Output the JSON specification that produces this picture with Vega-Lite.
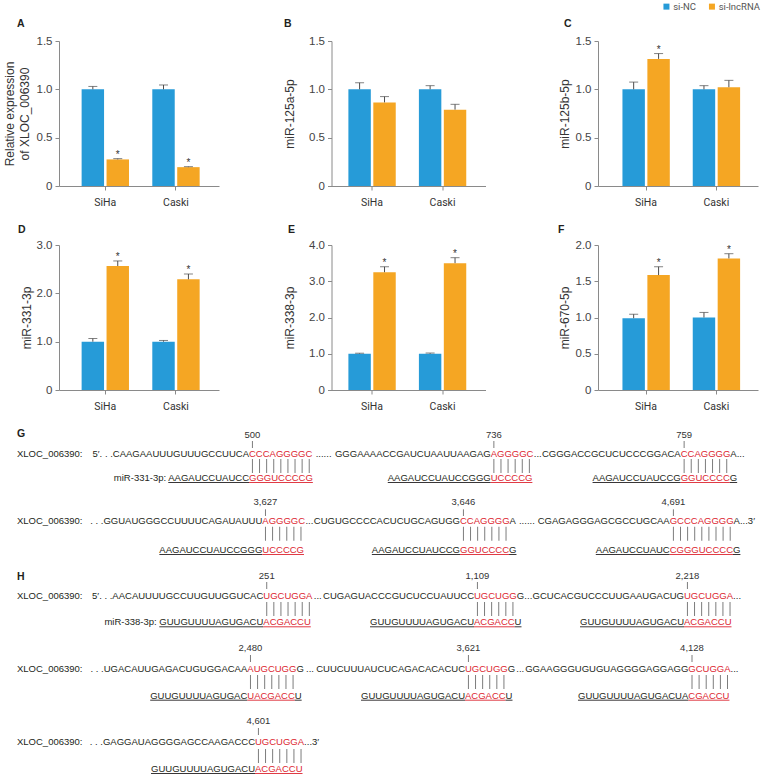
{
  "$schema": "https://vega.github.io/schema/vega-lite/v6.json",
  "background": "white",
  "padding": {"left": 3, "top": 1, "right": 0, "bottom": 0},
  "config": {
    "view": {"stroke": null},
    "font": "Liberation Sans",
    "axis": {"grid": false, "domainColor": "#8a8a8a", "tickColor": "#8a8a8a", "tickSize": 4, "domainWidth": 1, "tickWidth": 1, "labelColor": "#444444", "labelFont": "Liberation Sans", "labelFontSize": 11.5, "labelPadding": 3, "labelOverlap": false, "titleFont": "Liberation Sans", "titleFontSize": 12, "titleFontWeight": "normal", "titleColor": "#333333"},
    "axisX": {"labelFont": "Roboto", "labelFontSize": 10.5, "labelPadding": 7, "labelAngle": 0, "labelColor": "#333333"},
    "legend": {"orient": "none", "legendX": 602.7, "legendY": -39.5, "direction": "horizontal", "title": null, "symbolType": "square", "symbolSize": 36, "symbolStrokeWidth": 0, "labelFont": "Roboto", "labelFontSize": 9.5, "labelColor": "#555555", "labelOffset": 2, "columnPadding": 10.5, "padding": 0}
  },
  "datasets": {
    "bars": [
      {"panel": "A", "cell": "SiHa", "group": "si-NC", "mean": 1.0, "upper": 1.03, "sig": ""},
      {"panel": "A", "cell": "SiHa", "group": "si-lncRNA", "mean": 0.275, "upper": 0.283, "sig": "*"},
      {"panel": "A", "cell": "Caski", "group": "si-NC", "mean": 1.0, "upper": 1.045, "sig": ""},
      {"panel": "A", "cell": "Caski", "group": "si-lncRNA", "mean": 0.195, "upper": 0.2, "sig": "*"},
      {"panel": "B", "cell": "SiHa", "group": "si-NC", "mean": 1.0, "upper": 1.068, "sig": ""},
      {"panel": "B", "cell": "SiHa", "group": "si-lncRNA", "mean": 0.865, "upper": 0.925, "sig": ""},
      {"panel": "B", "cell": "Caski", "group": "si-NC", "mean": 1.0, "upper": 1.038, "sig": ""},
      {"panel": "B", "cell": "Caski", "group": "si-lncRNA", "mean": 0.79, "upper": 0.845, "sig": ""},
      {"panel": "C", "cell": "SiHa", "group": "si-NC", "mean": 1.0, "upper": 1.075, "sig": ""},
      {"panel": "C", "cell": "SiHa", "group": "si-lncRNA", "mean": 1.315, "upper": 1.37, "sig": "*"},
      {"panel": "C", "cell": "Caski", "group": "si-NC", "mean": 1.0, "upper": 1.038, "sig": ""},
      {"panel": "C", "cell": "Caski", "group": "si-lncRNA", "mean": 1.022, "upper": 1.093, "sig": ""},
      {"panel": "D", "cell": "SiHa", "group": "si-NC", "mean": 1.0, "upper": 1.065, "sig": ""},
      {"panel": "D", "cell": "SiHa", "group": "si-lncRNA", "mean": 2.565, "upper": 2.67, "sig": "*"},
      {"panel": "D", "cell": "Caski", "group": "si-NC", "mean": 1.0, "upper": 1.025, "sig": ""},
      {"panel": "D", "cell": "Caski", "group": "si-lncRNA", "mean": 2.29, "upper": 2.4, "sig": "*"},
      {"panel": "E", "cell": "SiHa", "group": "si-NC", "mean": 1.0, "upper": 1.015, "sig": ""},
      {"panel": "E", "cell": "SiHa", "group": "si-lncRNA", "mean": 3.25, "upper": 3.4, "sig": "*"},
      {"panel": "E", "cell": "Caski", "group": "si-NC", "mean": 1.0, "upper": 1.02, "sig": ""},
      {"panel": "E", "cell": "Caski", "group": "si-lncRNA", "mean": 3.5, "upper": 3.65, "sig": "*"},
      {"panel": "F", "cell": "SiHa", "group": "si-NC", "mean": 0.99, "upper": 1.045, "sig": ""},
      {"panel": "F", "cell": "SiHa", "group": "si-lncRNA", "mean": 1.585, "upper": 1.7, "sig": "*"},
      {"panel": "F", "cell": "Caski", "group": "si-NC", "mean": 1.0, "upper": 1.07, "sig": ""},
      {"panel": "F", "cell": "Caski", "group": "si-lncRNA", "mean": 1.815, "upper": 1.88, "sig": "*"}
    ],
    "seq": [
      {"x": 18, "y": 455, "text": "XLOC_006390:", "tone": "flank", "anchor": "start"},
      {"x": 250, "y": 455, "text": "5′. . .CAAGAAUUUGUUUGCCUUCA", "tone": "flank", "anchor": "end"},
      {"x": 250, "y": 455, "text": "CCCAGGGGC", "tone": "site", "anchor": "start"},
      {"x": 324.6, "y": 455, "text": "......", "tone": "flank", "anchor": "middle"},
      {"x": 491.7, "y": 455, "text": "GGGAAAACCGAUCUAAUUAAGAG", "tone": "flank", "anchor": "end"},
      {"x": 491.7, "y": 455, "text": "AGGGGC", "tone": "site", "anchor": "start"},
      {"x": 538.7, "y": 455, "text": "...", "tone": "flank", "anchor": "middle"},
      {"x": 681.7, "y": 455, "text": "CGGGACCGCUCUCCCGGACA", "tone": "flank", "anchor": "end"},
      {"x": 681.7, "y": 455, "text": "CCAGGGG", "tone": "site", "anchor": "start"},
      {"x": 731.3, "y": 455, "text": "A...", "tone": "flank", "anchor": "start"},
      {"x": 250, "y": 479, "text": "miR-331-3p: AAGAUCCUAUCC", "tone": "flank", "anchor": "end"},
      {"x": 250, "y": 479, "text": "GGGUCCCCG", "tone": "site", "anchor": "start"},
      {"x": 491.7, "y": 479, "text": "AAGAUCCUAUCCGGG", "tone": "flank", "anchor": "end"},
      {"x": 491.7, "y": 479, "text": "UCCCCG", "tone": "site", "anchor": "start"},
      {"x": 681.7, "y": 479, "text": "AAGAUCCUAUCCG", "tone": "flank", "anchor": "end"},
      {"x": 681.7, "y": 479, "text": "GGUCCCC", "tone": "site", "anchor": "start"},
      {"x": 730.8, "y": 479, "text": "G", "tone": "flank", "anchor": "start"},
      {"x": 18, "y": 522.3, "text": "XLOC_006390:", "tone": "flank", "anchor": "start"},
      {"x": 263.3, "y": 522.3, "text": ". . .GGUAUGGGCCUUUUCAGAUAUUU", "tone": "flank", "anchor": "end"},
      {"x": 263.3, "y": 522.3, "text": "AGGGGC", "tone": "site", "anchor": "start"},
      {"x": 310.4, "y": 522.3, "text": "...", "tone": "flank", "anchor": "middle"},
      {"x": 461, "y": 522.3, "text": "CUGUGCCCCACUCUGCAGUGG", "tone": "flank", "anchor": "end"},
      {"x": 461, "y": 522.3, "text": "CCAGGGG", "tone": "site", "anchor": "start"},
      {"x": 510.6, "y": 522.3, "text": "A", "tone": "flank", "anchor": "start"},
      {"x": 527.9, "y": 522.3, "text": "......", "tone": "flank", "anchor": "middle"},
      {"x": 670.7, "y": 522.3, "text": "CGAGAGGGAGCGCCUGCAA", "tone": "flank", "anchor": "end"},
      {"x": 670.7, "y": 522.3, "text": "GCCCAGGGG", "tone": "site", "anchor": "start"},
      {"x": 734.6, "y": 522.3, "text": "A...3′", "tone": "flank", "anchor": "start"},
      {"x": 263.3, "y": 551, "text": "AAGAUCCUAUCCGGG", "tone": "flank", "anchor": "end"},
      {"x": 263.3, "y": 551, "text": "UCCCCG", "tone": "site", "anchor": "start"},
      {"x": 461, "y": 551, "text": "AAGAUCCUAUCCG", "tone": "flank", "anchor": "end"},
      {"x": 461, "y": 551, "text": "GGUCCCC", "tone": "site", "anchor": "start"},
      {"x": 510.1, "y": 551, "text": "G", "tone": "flank", "anchor": "start"},
      {"x": 670.7, "y": 551, "text": "AAGAUCCUAUC", "tone": "flank", "anchor": "end"},
      {"x": 670.7, "y": 551, "text": "CGGGUCCCC", "tone": "site", "anchor": "start"},
      {"x": 734, "y": 551, "text": "G", "tone": "flank", "anchor": "start"},
      {"x": 18, "y": 596.7, "text": "XLOC_006390:", "tone": "flank", "anchor": "start"},
      {"x": 264.3, "y": 596.7, "text": "5′. . .AACAUUUUGCCUUGUUGGUCAC", "tone": "flank", "anchor": "end"},
      {"x": 264.3, "y": 596.7, "text": "UGCUGGA", "tone": "site", "anchor": "start"},
      {"x": 318.7, "y": 596.7, "text": "...", "tone": "flank", "anchor": "middle"},
      {"x": 475, "y": 596.7, "text": "CUGAGUACCCGUCUCCUAUUCC", "tone": "flank", "anchor": "end"},
      {"x": 475, "y": 596.7, "text": "UGCUGG", "tone": "site", "anchor": "start"},
      {"x": 517.8, "y": 596.7, "text": "G", "tone": "flank", "anchor": "start"},
      {"x": 529.3, "y": 596.7, "text": "...", "tone": "flank", "anchor": "middle"},
      {"x": 685, "y": 596.7, "text": "GCUCACGUCCCUUGAAUGACUG", "tone": "flank", "anchor": "end"},
      {"x": 685, "y": 596.7, "text": "UGCUGGA", "tone": "site", "anchor": "start"},
      {"x": 734.1, "y": 596.7, "text": "...", "tone": "flank", "anchor": "start"},
      {"x": 264.3, "y": 623.3, "text": "miR-338-3p: GUUGUUUUAGUGACU", "tone": "flank", "anchor": "end"},
      {"x": 264.3, "y": 623.3, "text": "ACGACCU", "tone": "site", "anchor": "start"},
      {"x": 475, "y": 623.3, "text": "GUUGUUUUAGUGACU", "tone": "flank", "anchor": "end"},
      {"x": 475, "y": 623.3, "text": "ACGACC", "tone": "site", "anchor": "start"},
      {"x": 515.6, "y": 623.3, "text": "U", "tone": "flank", "anchor": "start"},
      {"x": 685, "y": 623.3, "text": "GUUGUUUUAGUGACU", "tone": "flank", "anchor": "end"},
      {"x": 685, "y": 623.3, "text": "ACGACCU", "tone": "site", "anchor": "start"},
      {"x": 18, "y": 670, "text": "XLOC_006390:", "tone": "flank", "anchor": "start"},
      {"x": 248.3, "y": 670, "text": ". . .UGACAUUGAGACUGUGGACAA", "tone": "flank", "anchor": "end"},
      {"x": 248.3, "y": 670, "text": "AUGCUGG", "tone": "site", "anchor": "start"},
      {"x": 297.4, "y": 670, "text": "G", "tone": "flank", "anchor": "start"},
      {"x": 311, "y": 670, "text": "...", "tone": "flank", "anchor": "middle"},
      {"x": 466, "y": 670, "text": "CUUCUUUAUCUCAGACACACUC", "tone": "flank", "anchor": "end"},
      {"x": 466, "y": 670, "text": "UGCUGG", "tone": "site", "anchor": "start"},
      {"x": 508.8, "y": 670, "text": "G", "tone": "flank", "anchor": "start"},
      {"x": 521.2, "y": 670, "text": "...", "tone": "flank", "anchor": "middle"},
      {"x": 689.3, "y": 670, "text": "GGAAGGGUGUGUAGGGGAGGAGG", "tone": "flank", "anchor": "end"},
      {"x": 689.3, "y": 670, "text": "GCUGGA", "tone": "site", "anchor": "start"},
      {"x": 731.5, "y": 670, "text": "...", "tone": "flank", "anchor": "start"},
      {"x": 248.3, "y": 696.7, "text": "GUUGUUUUAGUGAC", "tone": "flank", "anchor": "end"},
      {"x": 248.3, "y": 696.7, "text": "UACGACC", "tone": "site", "anchor": "start"},
      {"x": 295.8, "y": 696.7, "text": "U", "tone": "flank", "anchor": "start"},
      {"x": 466, "y": 696.7, "text": "GUUGUUUUAGUGACU", "tone": "flank", "anchor": "end"},
      {"x": 466, "y": 696.7, "text": "ACGACC", "tone": "site", "anchor": "start"},
      {"x": 506.6, "y": 696.7, "text": "U", "tone": "flank", "anchor": "start"},
      {"x": 689.3, "y": 696.7, "text": "GUUGUUUUAGUGACUA", "tone": "flank", "anchor": "end"},
      {"x": 689.3, "y": 696.7, "text": "CGACCU", "tone": "site", "anchor": "start"},
      {"x": 18, "y": 743.3, "text": "XLOC_006390:", "tone": "flank", "anchor": "start"},
      {"x": 256, "y": 743.3, "text": ". . .GAGGAUAGGGGAGCCAAGACCC", "tone": "flank", "anchor": "end"},
      {"x": 256, "y": 743.3, "text": "UGCUGGA", "tone": "site", "anchor": "start"},
      {"x": 305.1, "y": 743.3, "text": "...3′", "tone": "flank", "anchor": "start"},
      {"x": 256, "y": 770, "text": "GUUGUUUUAGUGACU", "tone": "flank", "anchor": "end"},
      {"x": 256, "y": 770, "text": "ACGACCU", "tone": "site", "anchor": "start"}
    ],
    "pairs": [
      {"x": 252.93, "x2": 310.73, "y": 467},
      {"x": 494.37, "x2": 530.87, "y": 467},
      {"x": 684.63, "x2": 728.23, "y": 467},
      {"x": 265.97, "x2": 302.47, "y": 534.8},
      {"x": 463.93, "x2": 507.53, "y": 534.8},
      {"x": 673.9, "x2": 731.7, "y": 534.8},
      {"x": 267.23, "x2": 310.83, "y": 610},
      {"x": 477.93, "x2": 514.43, "y": 610},
      {"x": 687.93, "x2": 731.53, "y": 610},
      {"x": 250.97, "x2": 294.57, "y": 683},
      {"x": 468.93, "x2": 505.43, "y": 683},
      {"x": 692.5, "x2": 729, "y": 683},
      {"x": 258.93, "x2": 302.53, "y": 757}
    ],
    "under": [
      {"x": 169.25, "x2": 250, "y": 483.5, "tone": "flank"},
      {"x": 250, "x2": 313.86, "y": 483.5, "tone": "site"},
      {"x": 388.78, "x2": 491.7, "y": 483.5, "tone": "flank"},
      {"x": 491.7, "x2": 533.39, "y": 483.5, "tone": "site"},
      {"x": 593.56, "x2": 681.7, "y": 483.5, "tone": "flank"},
      {"x": 681.7, "x2": 730.78, "y": 483.5, "tone": "site"},
      {"x": 730.78, "x2": 738.17, "y": 483.5, "tone": "flank"},
      {"x": 160.38, "x2": 263.3, "y": 555.5, "tone": "flank"},
      {"x": 263.3, "x2": 304.99, "y": 555.5, "tone": "site"},
      {"x": 372.86, "x2": 461, "y": 555.5, "tone": "flank"},
      {"x": 461, "x2": 510.08, "y": 555.5, "tone": "site"},
      {"x": 510.08, "x2": 517.47, "y": 555.5, "tone": "flank"},
      {"x": 596.81, "x2": 670.7, "y": 555.5, "tone": "flank"},
      {"x": 670.7, "x2": 734.03, "y": 555.5, "tone": "site"},
      {"x": 734.03, "x2": 741.42, "y": 555.5, "tone": "flank"},
      {"x": 160.33, "x2": 264.3, "y": 627.8, "tone": "flank"},
      {"x": 264.3, "x2": 311.8, "y": 627.8, "tone": "site"},
      {"x": 371.03, "x2": 475, "y": 627.8, "tone": "flank"},
      {"x": 475, "x2": 515.64, "y": 627.8, "tone": "site"},
      {"x": 515.64, "x2": 522.5, "y": 627.8, "tone": "flank"},
      {"x": 581.03, "x2": 685, "y": 627.8, "tone": "flank"},
      {"x": 685, "x2": 732.5, "y": 627.8, "tone": "site"},
      {"x": 151.19, "x2": 248.3, "y": 701.2, "tone": "flank"},
      {"x": 248.3, "x2": 295.8, "y": 701.2, "tone": "site"},
      {"x": 295.8, "x2": 302.66, "y": 701.2, "tone": "flank"},
      {"x": 362.03, "x2": 466, "y": 701.2, "tone": "flank"},
      {"x": 466, "x2": 506.64, "y": 701.2, "tone": "site"},
      {"x": 506.64, "x2": 513.5, "y": 701.2, "tone": "flank"},
      {"x": 578.99, "x2": 689.3, "y": 701.2, "tone": "flank"},
      {"x": 689.3, "x2": 730.46, "y": 701.2, "tone": "site"},
      {"x": 152.03, "x2": 256, "y": 774.5, "tone": "flank"},
      {"x": 256, "x2": 303.5, "y": 774.5, "tone": "site"}
    ],
    "sites": [
      {"x": 253.43, "y": 435.5, "label": "500", "t1": 442, "t2": 449},
      {"x": 494.87, "y": 435.5, "label": "736", "t1": 442, "t2": 449},
      {"x": 685.13, "y": 435.5, "label": "759", "t1": 442, "t2": 449},
      {"x": 266.47, "y": 503.3, "label": "3,627", "t1": 510.3, "t2": 517},
      {"x": 464.43, "y": 503.3, "label": "3,646", "t1": 510.3, "t2": 517},
      {"x": 674.4, "y": 503.3, "label": "4,691", "t1": 510.3, "t2": 517},
      {"x": 267.73, "y": 576.7, "label": "251", "t1": 583, "t2": 590},
      {"x": 478.43, "y": 576.7, "label": "1,109", "t1": 583, "t2": 590},
      {"x": 688.43, "y": 576.7, "label": "2,218", "t1": 583, "t2": 590},
      {"x": 251.47, "y": 649.3, "label": "2,480", "t1": 656, "t2": 663},
      {"x": 469.43, "y": 649.3, "label": "3,621", "t1": 656, "t2": 663},
      {"x": 693, "y": 649.3, "label": "4,128", "t1": 656, "t2": 663},
      {"x": 259.43, "y": 722.3, "label": "4,601", "t1": 729, "t2": 736}
    ],
    "letters": [
      {"x": 18, "y": 435, "letter": "G"},
      {"x": 18, "y": 578, "letter": "H"}
    ]
  },
  "columns": 3,
  "align": "each",
  "bounds": "flush",
  "spacing": {"row": 59, "column": 112.5},
  "concat": [
    {
      "width": 160, "height": 145,
      "title": {"text": "A", "anchor": "start", "frame": "group", "dx": -42, "offset": -2, "baseline": "alphabetic", "fontSize": 10.5, "fontWeight": "bold", "font": "Liberation Sans", "color": "#231f20"},
      "data": {"name": "bars"},
      "transform": [{"filter": "datum.panel == 'A'"}],
      "encoding": {
        "x": {"field": "cell", "type": "nominal", "sort": ["SiHa", "Caski"], "scale": {"paddingInner": 0.33, "paddingOuter": 0.297, "align": 0.539}, "axis": {"title": null}},
        "xOffset": {"field": "group", "type": "nominal", "sort": ["si-NC", "si-lncRNA"], "scale": {"paddingInner": 0.1}}
      },
      "layer": [
        {"mark": "bar", "encoding": {
          "y": {"field": "mean", "type": "quantitative", "scale": {"domain": [0, 1.5], "nice": false}, "axis": {"title": ["Relative expression", "of XLOC_006390"], "titleX": -50, "titleBaseline": "middle", "titleLineHeight": 15, "values": [0, 0.5, 1, 1.5], "tickCount": 10, "labelExpr": "datum.value == 0 ? '0' : format(datum.value, '.1f')"}},
          "color": {"field": "group", "type": "nominal", "scale": {"domain": ["si-NC", "si-lncRNA"], "range": ["#269bd8", "#f5a623"]}}}},
        {"mark": {"type": "rule", "color": "#4d4d4d", "strokeWidth": 1}, "encoding": {"y": {"field": "mean", "type": "quantitative"}, "y2": {"field": "upper"}}},
        {"mark": {"type": "tick", "color": "#4d4d4d", "size": 9, "thickness": 1}, "encoding": {"y": {"field": "upper", "type": "quantitative"}}},
        {"transform": [{"filter": "datum.sig == '*'"}], "mark": {"type": "text", "dy": -4, "fontSize": 10, "color": "#333333", "baseline": "middle"}, "encoding": {"y": {"field": "upper", "type": "quantitative"}, "text": {"field": "sig"}}}
      ]
    },
    {
      "width": 154, "height": 145,
      "title": {"text": "B", "anchor": "start", "frame": "group", "dx": -47.5, "offset": -2, "baseline": "alphabetic", "fontSize": 10.5, "fontWeight": "bold", "font": "Liberation Sans", "color": "#231f20"},
      "data": {"name": "bars"},
      "transform": [{"filter": "datum.panel == 'B'"}],
      "encoding": {
        "x": {"field": "cell", "type": "nominal", "sort": ["SiHa", "Caski"], "scale": {"paddingInner": 0.33, "paddingOuter": 0.257, "align": 0.466}, "axis": {"title": null}},
        "xOffset": {"field": "group", "type": "nominal", "sort": ["si-NC", "si-lncRNA"], "scale": {"paddingInner": 0.1}}
      },
      "layer": [
        {"mark": "bar", "encoding": {
          "y": {"field": "mean", "type": "quantitative", "scale": {"domain": [0, 1.5], "nice": false}, "axis": {"title": "miR-125a-5p", "titleX": -42.5, "titleBaseline": "middle", "values": [0, 0.5, 1, 1.5], "tickCount": 10, "labelExpr": "datum.value == 0 ? '0' : format(datum.value, '.1f')"}},
          "color": {"field": "group", "type": "nominal", "scale": {"domain": ["si-NC", "si-lncRNA"], "range": ["#269bd8", "#f5a623"]}}}},
        {"mark": {"type": "rule", "color": "#4d4d4d", "strokeWidth": 1}, "encoding": {"y": {"field": "mean", "type": "quantitative"}, "y2": {"field": "upper"}}},
        {"mark": {"type": "tick", "color": "#4d4d4d", "size": 9, "thickness": 1}, "encoding": {"y": {"field": "upper", "type": "quantitative"}}},
        {"transform": [{"filter": "datum.sig == '*'"}], "mark": {"type": "text", "dy": -4, "fontSize": 10, "color": "#333333", "baseline": "middle"}, "encoding": {"y": {"field": "upper", "type": "quantitative"}, "text": {"field": "sig"}}}
      ]
    },
    {
      "width": 160, "height": 145,
      "title": {"text": "C", "anchor": "start", "frame": "group", "dx": -34, "offset": -2, "baseline": "alphabetic", "fontSize": 10.5, "fontWeight": "bold", "font": "Liberation Sans", "color": "#231f20"},
      "data": {"name": "bars"},
      "transform": [{"filter": "datum.panel == 'C'"}],
      "encoding": {
        "x": {"field": "cell", "type": "nominal", "sort": ["SiHa", "Caski"], "scale": {"paddingInner": 0.33, "paddingOuter": 0.303, "align": 0.574}, "axis": {"title": null}},
        "xOffset": {"field": "group", "type": "nominal", "sort": ["si-NC", "si-lncRNA"], "scale": {"paddingInner": 0.1}}
      },
      "layer": [
        {"mark": "bar", "encoding": {
          "y": {"field": "mean", "type": "quantitative", "scale": {"domain": [0, 1.5], "nice": false}, "axis": {"title": "miR-125b-5p", "titleX": -34, "titleBaseline": "middle", "values": [0, 0.5, 1, 1.5], "tickCount": 10, "labelExpr": "datum.value == 0 ? '0' : format(datum.value, '.1f')"}},
          "color": {"field": "group", "type": "nominal", "scale": {"domain": ["si-NC", "si-lncRNA"], "range": ["#269bd8", "#f5a623"]}}}},
        {"mark": {"type": "rule", "color": "#4d4d4d", "strokeWidth": 1}, "encoding": {"y": {"field": "mean", "type": "quantitative"}, "y2": {"field": "upper"}}},
        {"mark": {"type": "tick", "color": "#4d4d4d", "size": 9, "thickness": 1}, "encoding": {"y": {"field": "upper", "type": "quantitative"}}},
        {"transform": [{"filter": "datum.sig == '*'"}], "mark": {"type": "text", "dy": -4, "fontSize": 10, "color": "#333333", "baseline": "middle"}, "encoding": {"y": {"field": "upper", "type": "quantitative"}, "text": {"field": "sig"}}}
      ]
    },
    {
      "width": 160, "height": 145,
      "title": {"text": "D", "anchor": "start", "frame": "group", "dx": -41, "offset": -4, "baseline": "alphabetic", "fontSize": 10.5, "fontWeight": "bold", "font": "Liberation Sans", "color": "#231f20"},
      "data": {"name": "bars"},
      "transform": [{"filter": "datum.panel == 'D'"}],
      "encoding": {
        "x": {"field": "cell", "type": "nominal", "sort": ["SiHa", "Caski"], "scale": {"paddingInner": 0.33, "paddingOuter": 0.297, "align": 0.539}, "axis": {"title": null}},
        "xOffset": {"field": "group", "type": "nominal", "sort": ["si-NC", "si-lncRNA"], "scale": {"paddingInner": 0.1}}
      },
      "layer": [
        {"mark": "bar", "encoding": {
          "y": {"field": "mean", "type": "quantitative", "scale": {"domain": [0, 3], "nice": false}, "axis": {"title": "miR-331-3p", "titleX": -33, "titleBaseline": "middle", "values": [0, 1, 2, 3], "tickCount": 10, "labelExpr": "datum.value == 0 ? '0' : format(datum.value, '.1f')"}},
          "color": {"field": "group", "type": "nominal", "scale": {"domain": ["si-NC", "si-lncRNA"], "range": ["#269bd8", "#f5a623"]}}}},
        {"mark": {"type": "rule", "color": "#4d4d4d", "strokeWidth": 1}, "encoding": {"y": {"field": "mean", "type": "quantitative"}, "y2": {"field": "upper"}}},
        {"mark": {"type": "tick", "color": "#4d4d4d", "size": 9, "thickness": 1}, "encoding": {"y": {"field": "upper", "type": "quantitative"}}},
        {"transform": [{"filter": "datum.sig == '*'"}], "mark": {"type": "text", "dy": -4, "fontSize": 10, "color": "#333333", "baseline": "middle"}, "encoding": {"y": {"field": "upper", "type": "quantitative"}, "text": {"field": "sig"}}}
      ]
    },
    {
      "width": 154, "height": 145,
      "title": {"text": "E", "anchor": "start", "frame": "group", "dx": -43.5, "offset": -4, "baseline": "alphabetic", "fontSize": 10.5, "fontWeight": "bold", "font": "Liberation Sans", "color": "#231f20"},
      "data": {"name": "bars"},
      "transform": [{"filter": "datum.panel == 'E'"}],
      "encoding": {
        "x": {"field": "cell", "type": "nominal", "sort": ["SiHa", "Caski"], "scale": {"paddingInner": 0.33, "paddingOuter": 0.257, "align": 0.466}, "axis": {"title": null}},
        "xOffset": {"field": "group", "type": "nominal", "sort": ["si-NC", "si-lncRNA"], "scale": {"paddingInner": 0.1}}
      },
      "layer": [
        {"mark": "bar", "encoding": {
          "y": {"field": "mean", "type": "quantitative", "scale": {"domain": [0, 4], "nice": false}, "axis": {"title": "miR-338-3p", "titleX": -42.5, "titleBaseline": "middle", "values": [0, 1, 2, 3, 4], "tickCount": 10, "labelExpr": "datum.value == 0 ? '0' : format(datum.value, '.1f')"}},
          "color": {"field": "group", "type": "nominal", "scale": {"domain": ["si-NC", "si-lncRNA"], "range": ["#269bd8", "#f5a623"]}}}},
        {"mark": {"type": "rule", "color": "#4d4d4d", "strokeWidth": 1}, "encoding": {"y": {"field": "mean", "type": "quantitative"}, "y2": {"field": "upper"}}},
        {"mark": {"type": "tick", "color": "#4d4d4d", "size": 9, "thickness": 1}, "encoding": {"y": {"field": "upper", "type": "quantitative"}}},
        {"transform": [{"filter": "datum.sig == '*'"}], "mark": {"type": "text", "dy": -4, "fontSize": 10, "color": "#333333", "baseline": "middle"}, "encoding": {"y": {"field": "upper", "type": "quantitative"}, "text": {"field": "sig"}}}
      ]
    },
    {
      "width": 160, "height": 145,
      "title": {"text": "F", "anchor": "start", "frame": "group", "dx": -40, "offset": -4, "baseline": "alphabetic", "fontSize": 10.5, "fontWeight": "bold", "font": "Liberation Sans", "color": "#231f20"},
      "data": {"name": "bars"},
      "transform": [{"filter": "datum.panel == 'F'"}],
      "encoding": {
        "x": {"field": "cell", "type": "nominal", "sort": ["SiHa", "Caski"], "scale": {"paddingInner": 0.33, "paddingOuter": 0.303, "align": 0.574}, "axis": {"title": null}},
        "xOffset": {"field": "group", "type": "nominal", "sort": ["si-NC", "si-lncRNA"], "scale": {"paddingInner": 0.1}}
      },
      "layer": [
        {"mark": "bar", "encoding": {
          "y": {"field": "mean", "type": "quantitative", "scale": {"domain": [0, 2], "nice": false}, "axis": {"title": "miR-670-5p", "titleX": -34, "titleBaseline": "middle", "values": [0, 0.5, 1, 1.5, 2], "tickCount": 10, "labelExpr": "datum.value == 0 ? '0' : format(datum.value, '.1f')"}},
          "color": {"field": "group", "type": "nominal", "scale": {"domain": ["si-NC", "si-lncRNA"], "range": ["#269bd8", "#f5a623"]}}}},
        {"mark": {"type": "rule", "color": "#4d4d4d", "strokeWidth": 1}, "encoding": {"y": {"field": "mean", "type": "quantitative"}, "y2": {"field": "upper"}}},
        {"mark": {"type": "tick", "color": "#4d4d4d", "size": 9, "thickness": 1}, "encoding": {"y": {"field": "upper", "type": "quantitative"}}},
        {"transform": [{"filter": "datum.sig == '*'"}], "mark": {"type": "text", "dy": -4, "fontSize": 10, "color": "#333333", "baseline": "middle"}, "encoding": {"y": {"field": "upper", "type": "quantitative"}, "text": {"field": "sig"}}}
      ]
    },
    {
      "width": 160, "height": 326,
      "layer": [
        {"data": {"name": "seq"}, "transform": [{"filter": "datum.anchor == 'start'"}], "mark": {"type": "text", "align": "left", "baseline": "middle", "font": "Liberation Sans", "fontSize": 9.5},
         "encoding": {"x": {"field": "x", "type": "quantitative", "scale": {"domain": [60, 220], "nice": false, "zero": false}, "axis": null}, "y": {"field": "y", "type": "quantitative", "scale": {"domain": [450, 776], "nice": false, "zero": false, "reverse": true}, "axis": null}, "text": {"field": "text"}, "fill": {"field": "tone", "type": "nominal", "scale": {"domain": ["flank", "site"], "range": ["#231f20", "#dc2530"]}, "legend": null}}},
        {"data": {"name": "seq"}, "transform": [{"filter": "datum.anchor == 'end'"}], "mark": {"type": "text", "align": "right", "baseline": "middle", "font": "Liberation Sans", "fontSize": 9.5},
         "encoding": {"x": {"field": "x", "type": "quantitative", "scale": {"domain": [60, 220], "nice": false, "zero": false}, "axis": null}, "y": {"field": "y", "type": "quantitative", "scale": {"domain": [450, 776], "nice": false, "zero": false, "reverse": true}, "axis": null}, "text": {"field": "text"}, "fill": {"field": "tone", "type": "nominal", "scale": {"domain": ["flank", "site"], "range": ["#231f20", "#dc2530"]}, "legend": null}}},
        {"data": {"name": "seq"}, "transform": [{"filter": "datum.anchor == 'middle'"}], "mark": {"type": "text", "align": "center", "baseline": "middle", "font": "Liberation Sans", "fontSize": 9.5},
         "encoding": {"x": {"field": "x", "type": "quantitative", "scale": {"domain": [60, 220], "nice": false, "zero": false}, "axis": null}, "y": {"field": "y", "type": "quantitative", "scale": {"domain": [450, 776], "nice": false, "zero": false, "reverse": true}, "axis": null}, "text": {"field": "text"}, "fill": {"field": "tone", "type": "nominal", "scale": {"domain": ["flank", "site"], "range": ["#231f20", "#dc2530"]}, "legend": null}}},
        {"data": {"name": "pairs"}, "mark": {"type": "rule", "strokeDash": [1, 6.1], "strokeWidth": 14, "color": "#7d7d7d"},
         "encoding": {"x": {"field": "x", "type": "quantitative", "scale": {"domain": [60, 220], "nice": false, "zero": false}, "axis": null}, "x2": {"field": "x2"}, "y": {"field": "y", "type": "quantitative", "scale": {"domain": [450, 776], "nice": false, "zero": false, "reverse": true}, "axis": null}}},
        {"data": {"name": "under"}, "mark": {"type": "rule", "strokeWidth": 0.9},
         "encoding": {"x": {"field": "x", "type": "quantitative", "scale": {"domain": [60, 220], "nice": false, "zero": false}, "axis": null}, "x2": {"field": "x2"}, "y": {"field": "y", "type": "quantitative", "scale": {"domain": [450, 776], "nice": false, "zero": false, "reverse": true}, "axis": null}, "stroke": {"field": "tone", "type": "nominal", "scale": {"domain": ["flank", "site"], "range": ["#231f20", "#dc2530"]}, "legend": null}}},
        {"data": {"name": "sites"}, "mark": {"type": "text", "align": "center", "baseline": "middle", "font": "Liberation Sans", "fontSize": 9.5, "color": "#333333"},
         "encoding": {"x": {"field": "x", "type": "quantitative", "scale": {"domain": [60, 220], "nice": false, "zero": false}, "axis": null}, "y": {"field": "y", "type": "quantitative", "scale": {"domain": [450, 776], "nice": false, "zero": false, "reverse": true}, "axis": null}, "text": {"field": "label"}}},
        {"data": {"name": "sites"}, "mark": {"type": "rule", "color": "#7d7d7d", "strokeWidth": 1},
         "encoding": {"x": {"field": "x", "type": "quantitative", "scale": {"domain": [60, 220], "nice": false, "zero": false}, "axis": null}, "y": {"field": "t1", "type": "quantitative", "scale": {"domain": [450, 776], "nice": false, "zero": false, "reverse": true}, "axis": null}, "y2": {"field": "t2"}}},
        {"data": {"name": "letters"}, "mark": {"type": "text", "align": "left", "baseline": "middle", "font": "Liberation Sans", "fontSize": 10.5, "fontWeight": "bold", "color": "#231f20"},
         "encoding": {"x": {"field": "x", "type": "quantitative", "scale": {"domain": [60, 220], "nice": false, "zero": false}, "axis": null}, "y": {"field": "y", "type": "quantitative", "scale": {"domain": [450, 776], "nice": false, "zero": false, "reverse": true}, "axis": null}, "text": {"field": "letter"}}}
      ]
    }
  ]
}
